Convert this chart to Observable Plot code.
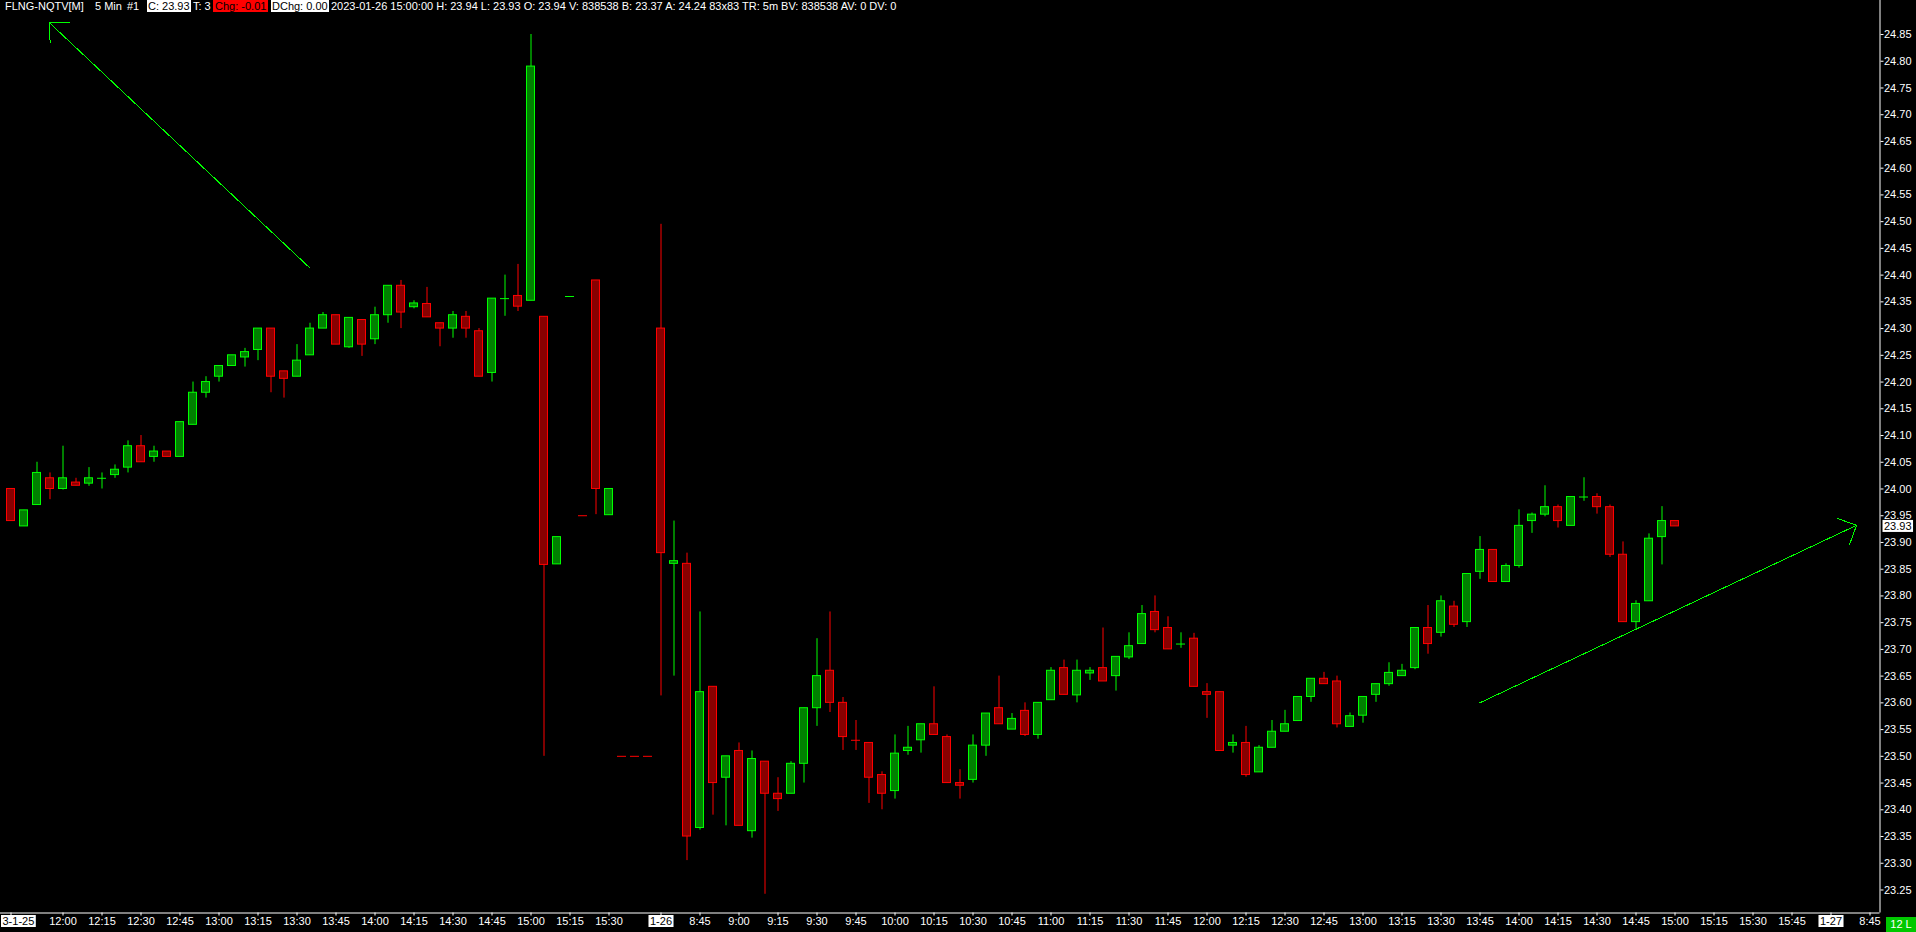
<!DOCTYPE html>
<html><head><meta charset="utf-8">
<script src="https://cdn.jsdelivr.net/npm/d3@7"></script>
<script src="https://cdn.jsdelivr.net/npm/@observablehq/plot@0.6"></script>
<style>
html,body{margin:0;padding:0;background:#000;overflow:hidden;}
#wrap{position:relative;width:1916px;height:932px;background:#000;}
#chart svg{display:block;}
#hdr{position:absolute;left:0;top:0;width:1000px;height:12px;font:11px "Liberation Sans",Arial,sans-serif;color:#fff;white-space:pre;line-height:12px;}
#hdr span{position:absolute;top:0;height:12px;}
#hdr .wb{background:#fff;color:#000;padding:0 1px;}
#hdr .rb{background:#ff0000;color:#000;padding:0 2px;}
#lastbox{position:absolute;left:1886px;top:917px;width:30px;height:15px;background:#00c800;color:#fff;font:11px "Liberation Sans",Arial,sans-serif;line-height:15px;text-align:center;}
</style></head>
<body><div id="wrap"><div id="chart"></div><div id="hdr"></div><div id="lastbox">12 L</div></div>
<script>
// ---- data: 5-minute bars (slot index = position in array) ----
const opens = [
24.00,23.93,23.97,24.02,24.00,24.012,24.01,24.02,24.026,24.04,
24.08,24.06,24.07,24.06,24.12,24.18,24.21,24.23,24.246,24.26,
24.30,24.22,24.21,24.25,24.30,24.325,24.265,24.316,24.28,24.325,
24.38,24.34,24.346,24.31,24.30,24.322,24.295,24.217,24.356,24.361,
24.352,24.322,23.859,24.36,23.95,24.39,23.951,23.50,23.50,23.50,
24.30,23.86,23.86,23.366,23.63,23.46,23.51,23.36,23.49,23.43,
23.43,23.486,23.59,23.66,23.60,23.53,23.525,23.465,23.435,23.51,
23.53,23.56,23.536,23.45,23.456,23.52,23.59,23.55,23.585,23.54,
23.605,23.665,23.614,23.655,23.665,23.65,23.685,23.71,23.77,23.74,
23.71,23.72,23.62,23.62,23.52,23.525,23.47,23.516,23.546,23.566,
23.611,23.645,23.64,23.555,23.576,23.615,23.635,23.65,23.665,23.74,
23.731,23.78,23.751,23.845,23.886,23.826,23.856,23.94,23.952,23.966,
23.931,23.985,23.985,23.966,23.877,23.751,23.79,23.91,23.94];
const highs = [
24.00,23.96,24.05,24.03,24.08,24.02,24.04,24.03,24.045,24.09,
24.10,24.08,24.07,24.125,24.20,24.21,24.23,24.25,24.263,24.30,
24.30,24.22,24.27,24.31,24.33,24.325,24.32,24.316,24.34,24.38,
24.39,24.352,24.377,24.31,24.332,24.332,24.30,24.356,24.40,24.42,
24.85,24.322,23.91,24.36,23.95,24.39,24.00,23.50,23.50,23.50,
24.495,23.94,23.88,23.77,23.63,23.50,23.525,23.51,23.49,23.46,
23.49,23.59,23.72,23.77,23.61,23.567,23.525,23.471,23.54,23.556,
23.56,23.63,23.54,23.475,23.54,23.58,23.65,23.58,23.60,23.60,
23.666,23.68,23.68,23.666,23.74,23.686,23.731,23.782,23.80,23.761,
23.731,23.73,23.636,23.62,23.54,23.556,23.52,23.567,23.586,23.611,
23.645,23.657,23.65,23.581,23.611,23.635,23.675,23.672,23.74,23.782,
23.80,23.79,23.841,23.911,23.886,23.86,23.961,23.955,24.006,23.97,
23.985,24.021,23.991,23.97,23.901,23.791,23.916,23.967,23.94];
const lows = [
23.94,23.93,23.97,23.98,23.998,24.006,24.005,24.00,24.02,24.03,
24.05,24.05,24.06,24.06,24.12,24.17,24.20,24.23,24.228,24.24,
24.18,24.17,24.21,24.25,24.30,24.27,24.263,24.248,24.27,24.31,
24.30,24.337,24.321,24.266,24.282,24.282,24.21,24.20,24.323,24.332,
24.352,23.50,23.859,24.36,23.95,23.952,23.951,23.50,23.50,23.50,
23.613,23.65,23.305,23.362,23.39,23.37,23.37,23.347,23.242,23.397,
23.43,23.45,23.556,23.582,23.511,23.511,23.412,23.40,23.42,23.502,
23.506,23.54,23.45,23.42,23.45,23.50,23.56,23.55,23.537,23.532,
23.605,23.615,23.60,23.642,23.64,23.622,23.681,23.71,23.731,23.70,
23.702,23.63,23.571,23.51,23.506,23.461,23.47,23.516,23.546,23.566,
23.601,23.635,23.553,23.555,23.562,23.601,23.631,23.65,23.662,23.691,
23.723,23.741,23.741,23.831,23.826,23.826,23.852,23.917,23.948,23.927,
23.931,23.977,23.953,23.872,23.751,23.738,23.79,23.858,23.93];
const closes = [
23.94,23.96,24.03,24.00,24.02,24.006,24.02,24.02,24.036,24.08,
24.05,24.07,24.06,24.125,24.18,24.20,24.23,24.25,24.256,24.30,
24.21,24.206,24.24,24.30,24.325,24.27,24.32,24.27,24.325,24.38,
24.33,24.347,24.321,24.30,24.325,24.30,24.21,24.356,24.356,24.341,
24.79,23.858,23.91,24.36,23.95,24.00,24.00,23.50,23.50,23.50,
23.88,23.865,23.35,23.62,23.45,23.50,23.37,23.495,23.43,23.42,
23.486,23.59,23.65,23.60,23.536,23.53,23.46,23.43,23.505,23.516,
23.56,23.54,23.45,23.445,23.52,23.58,23.56,23.57,23.54,23.60,
23.66,23.615,23.66,23.66,23.64,23.686,23.706,23.766,23.736,23.70,
23.71,23.63,23.615,23.51,23.525,23.465,23.516,23.546,23.56,23.611,
23.645,23.635,23.56,23.575,23.611,23.635,23.656,23.66,23.74,23.71,
23.79,23.746,23.841,23.886,23.826,23.856,23.931,23.952,23.966,23.94,
23.985,23.985,23.966,23.877,23.751,23.785,23.907,23.94,23.93];
// bars with open == close that are drawn in the up colour
const flatUp = [7, 38, 43, 90, 121];

// time-axis labels (slot index -> text); date labels are boxed
const tickSlots = [0,4,7,10,13,16,19,22,25,28,31,34,37,40,43,46,
  50,53,56,59,62,65,68,71,74,77,80,83,86,89,92,95,98,101,104,107,110,113,116,119,122,125,128,131,134,137,140,143];
const tickTexts = ["3-1-25","12:00","12:15","12:30","12:45","13:00","13:15","13:30","13:45","14:00","14:15","14:30","14:45","15:00","15:15","15:30",
  "1-26","8:45","9:00","9:15","9:30","9:45","10:00","10:15","10:30","10:45","11:00","11:15","11:30","11:45","12:00","12:15","12:30","12:45","13:00","13:15","13:30","13:45","14:00","14:15","14:30","14:45","15:00","15:15","15:30","15:45","1-27","8:45"];
const dateTicks = ["3-1-25","1-26","1-27"];

// price-axis ticks
const yTicks = d3.range(0, 33).map(k => +(23.25 + k * 0.05).toFixed(2));

// drawn arrows (slot, price) -> (slot, price), head at the end point
const arrowFromSlot = [22.96, 112.98];
const arrowFromPrice = [24.414, 23.60];
const arrowToSlot = [2.96, 141.96];
const arrowToPrice = [24.872, 23.932];

// ---- build ----
const UP = "#00ff00", DN = "#ff0000", UPF = "#008000", DNF = "#880000";
const bars = opens.map((o, i) => ({
  i, open: o, high: highs[i], low: lows[i], close: closes[i],
  up: closes[i] > o || (closes[i] === o && flatUp.includes(i))
}));
const bodies = bars.filter(d => d.open !== d.close);
const flats = bars.filter(d => d.open === d.close);
const ticks = tickSlots.map((s, k) => ({slot: s, text: tickTexts[k], date: dateTicks.includes(tickTexts[k])}));
const arrows = arrowFromSlot.map((s, k) => ({x1: s, y1: arrowFromPrice[k], x2: arrowToSlot[k], y2: arrowToPrice[k]}));
const lastClose = closes[closes.length - 1];

const step = 13;                      // px per slot
const xDomain = [-10.5 / step, (1879.5 - 10.5) / step];
const yDomain = [23.20698, 24.9136];
const half = 4 / step, halfFlat = 4.5 / step;

const chart = Plot.plot({
  width: 1916, height: 932,
  marginLeft: 0, marginRight: 36.5, marginTop: 0, marginBottom: 19.5,
  x: {domain: xDomain},
  y: {domain: yDomain},
  color: {type: "identity"},
  style: {background: "#000", color: "#fff", fontFamily: "'Liberation Sans', Arial, sans-serif", fontSize: "11px", overflow: "visible"},
  marks: [
    Plot.ruleX(bars, {x: "i", y1: "low", y2: "high", stroke: d => d.up ? UP : DN, strokeWidth: 1}),
    Plot.rect(bodies, {x1: d => d.i - half, x2: d => d.i + half, y1: "open", y2: "close",
      fill: d => d.up ? UPF : DNF, stroke: d => d.up ? UP : DN, strokeWidth: 1}),
    Plot.ruleY(flats, {y: "open", x1: d => d.i - halfFlat, x2: d => d.i + halfFlat, stroke: d => d.up ? UP : DN, strokeWidth: 1}),
    Plot.arrow(arrows, {x1: "x1", y1: "y1", x2: "x2", y2: "y2", stroke: UP, strokeWidth: 1, headAngle: 90, headLength: 30, shapeRendering: "crispEdges"}),
    Plot.ruleX([xDomain[1]], {stroke: "#fff", strokeWidth: 1}),
    Plot.ruleY([yDomain[0]], {stroke: "#fff", strokeWidth: 1}),
    Plot.axisY({anchor: "right", ticks: yTicks, tickFormat: d3.format(".2f"), tickSize: 3, tickPadding: 1, label: null, fill: "#fff", stroke: "#fff", fontSize: 11}),
    Plot.axisX({anchor: "bottom", ticks: tickSlots, tickSize: 3, tickFormat: () => "", label: null, stroke: "#fff"}),
    Plot.text(ticks.filter(d => !d.date), {x: "slot", text: "text", frameAnchor: "bottom", dy: 12, fill: "#fff", fontSize: 11}),
    Plot.text(ticks.filter(d => d.date && d.slot > 0), {x: "slot", text: "text", frameAnchor: "bottom", dy: 12, fill: "#000", fontSize: 11, className: "datelbl"}),
    Plot.text(ticks.filter(d => d.slot === 0), {x: "slot", text: "text", frameAnchor: "bottom", dy: 12, dx: -8.5, textAnchor: "start", fill: "#000", fontSize: 11, className: "datelbl"}),
    Plot.text([lastClose], {y: d => d, text: d => d.toFixed(2), frameAnchor: "right", dx: 4, textAnchor: "start", fill: "#000", fontSize: 11, className: "pricelbl"})
  ]
});
document.getElementById("chart").append(chart);

// white boxes behind boxed labels
d3.select(chart).selectAll("g.datelbl text, g.pricelbl text").each(function () {
  const b = this.getBBox();
  const r = document.createElementNS("http://www.w3.org/2000/svg", "rect");
  r.setAttribute("x", b.x - 1.5); r.setAttribute("y", b.y);
  r.setAttribute("width", b.width + 3); r.setAttribute("height", b.height);
  r.setAttribute("fill", "#fff");
  const t = this.getAttribute("transform"); if (t) r.setAttribute("transform", t);
  this.parentNode.insertBefore(r, this);
});

// header line: [class, text, left px]
const hdrParts = [
  ["", "FLNG-NQTV[M]", 5], ["", "5 Min", 95], ["", "#1", 127], ["wb", "C: 23.93", 147],
  ["", "T: 3", 193], ["rb", "Chg: -0.01", 213], ["wb", "DChg: 0.00", 271],
  ["", "2023-01-26 15:00:00 H: 23.94 L: 23.93 O: 23.94 V: 838538 B: 23.37 A: 24.24 83x83 TR: 5m BV: 838538 AV: 0 DV: 0", 331]
];
const hdr = document.getElementById("hdr");
hdrParts.forEach(([c, t, x]) => { const s = document.createElement("span"); if (c) s.className = c; s.textContent = t; s.style.left = x + "px"; hdr.append(s); });
</script>
</body></html>
